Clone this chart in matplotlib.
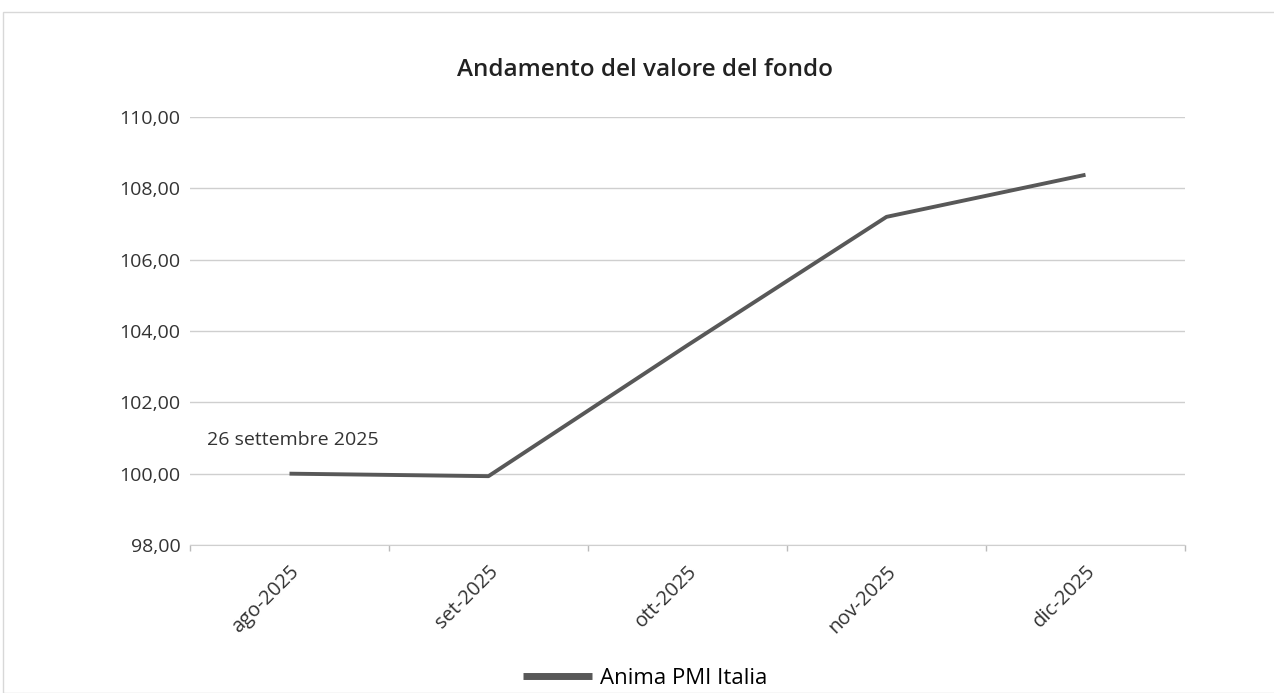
import matplotlib.pyplot as plt
from matplotlib.patches import Rectangle
from matplotlib.ticker import FuncFormatter, FixedLocator

# dati
mesi = ['ago-2025', 'set-2025', 'ott-2025', 'nov-2025', 'dic-2025']
valori = [100.00, 99.93, 103.60, 107.20, 108.38]
nome_fondo = 'Anima PMI Italia'
nota = '26 settembre 2025'
y_ticks = [98, 100, 102, 104, 106, 108, 110]

plt.rcParams['font.family'] = ['Open Sans', 'DejaVu Sans']

fig = plt.figure(figsize=(12.74, 6.93), dpi=100)
# cornice grigia chiara
fig.patches.append(Rectangle((3 / 1274, 0), 1.2, 1 - 12 / 693, transform=fig.transFigure,
                             fill=False, edgecolor='#d8d8d8', linewidth=1))

ax = fig.add_axes([190 / 1274, 1 - 545 / 693, 995 / 1274, 428 / 693])
x = list(range(len(mesi)))
ax.plot(x, valori, color='#585858', linewidth=2.8, label=nome_fondo, solid_capstyle='butt')

ax.set_xlim(-0.5, len(mesi) - 0.5)
ax.set_ylim(98, 110)
ax.set_yticks(y_ticks)
ax.yaxis.set_major_formatter(FuncFormatter(lambda v, p: f'{v:.2f}'.replace('.', ',')))
ax.grid(axis='y', color='#cfcfcf', linewidth=1)
ax.set_axisbelow(True)

ax.set_xticks(x)
ax.set_xticklabels(mesi, rotation=45, ha='right', rotation_mode='anchor', fontsize=14.5, color='#333333')
ax.xaxis.set_minor_locator(FixedLocator([i - 0.5 for i in range(len(mesi) + 1)]))
ax.tick_params(axis='x', which='major', length=0, pad=12)
ax.tick_params(axis='x', which='minor', length=4, color='#bbbbbb', width=1)
ax.tick_params(axis='y', length=0, pad=7, labelsize=14, labelcolor='#333333')

for s in ['top', 'right', 'left']:
    ax.spines[s].set_visible(False)
ax.spines['bottom'].set_color('#cfcfcf')

ax.text(-0.415, 100.8, nota, fontsize=14, color='#333333')

fig.text(645 / 1274, 1 - 70 / 693, 'Andamento del valore del fondo', ha='center', va='center',
         fontsize=17.5, color='#222222', fontweight='semibold')

leg = fig.legend(loc='center', bbox_to_anchor=(645 / 1274, 1 - 678 / 693), frameon=False,
                 fontsize=16, handlelength=3.1, handletextpad=0.36)
for ln in leg.get_lines():
    ln.set_linewidth(5)

fig.savefig('out.png', dpi=100)
